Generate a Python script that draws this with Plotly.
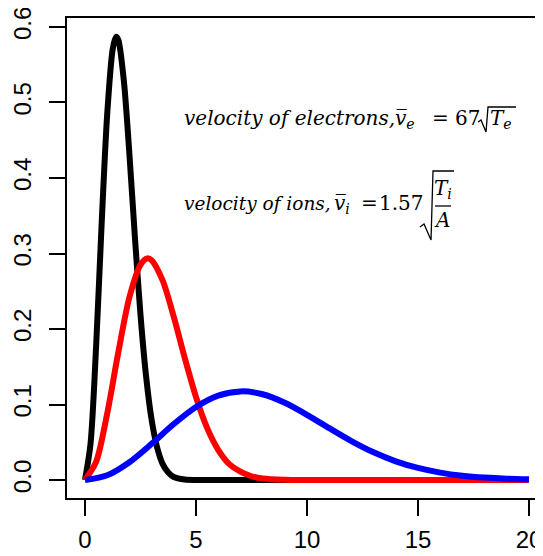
import plotly.graph_objects as go

# ---- data ----
x_black = [0, 0.25, 0.5, 0.75, 1.0, 1.25, 1.4, 1.5, 1.75, 2.0, 2.25, 2.5, 2.75, 3.0, 3.25, 3.5, 3.75, 4.0, 4.5, 5.0, 6, 8, 10, 12, 14, 16, 18, 20]
y_black = [0, 0.048, 0.176, 0.339, 0.484, 0.571, 0.587, 0.583, 0.529, 0.432, 0.321, 0.219, 0.138, 0.080, 0.043, 0.021, 0.010, 0.004, 0.0007, 0.0001, 0, 0, 0, 0, 0, 0, 0, 0]

x_red = [0, 0.5, 1.0, 1.5, 2.0, 2.5, 2.8, 3.0, 3.5, 4.0, 4.5, 5.0, 5.5, 6.0, 6.5, 7.0, 7.5, 8.0, 9.0, 10, 12, 14, 16, 18, 20]
y_red = [0, 0.024, 0.088, 0.169, 0.242, 0.285, 0.2935, 0.291, 0.264, 0.216, 0.161, 0.110, 0.069, 0.040, 0.021, 0.011, 0.005, 0.002, 0.0003, 0, 0, 0, 0, 0, 0]

x_blue = [0, 1, 2, 3, 4, 5, 6, 7, 8, 9, 10, 11, 12, 13, 14, 15, 16, 17, 18, 19, 20]
y_blue = [0, 0.0063, 0.0236, 0.0480, 0.0742, 0.0968, 0.1119, 0.1174, 0.1136, 0.1023, 0.0864, 0.0687, 0.0516, 0.0367, 0.0248, 0.0160, 0.0098, 0.0057, 0.0032, 0.0017, 0.0009]

x_ticks = [0, 5, 10, 15, 20]
y_ticks = [0.0, 0.1, 0.2, 0.3, 0.4, 0.5, 0.6]

series = [(x_black, y_black, "#000000"), (x_red, y_red, "#FF0000"), (x_blue, y_blue, "#0000FF")]

fig = go.Figure()
for xs, ys, c in series:
    fig.add_trace(go.Scatter(x=xs, y=ys, mode="lines",
                             line=dict(color=c, width=6, shape="spline", smoothing=0.8),
                             showlegend=False, hoverinfo="skip"))

# helpers: window pixel position -> data coordinates (layout only)
def X(px):
    return (px - 85) / 22.2

def Y(py):
    return (480 - py) / 755.0

def ann(px, py, text, anchor="center", size=20):
    return dict(x=X(px), y=Y(py), xanchor=anchor, yanchor="middle", showarrow=False,
                text=text, font=dict(family="DejaVu Serif", size=size, color="#000000"))

annotations = [
    # electrons
    ann(182, 118, "<i>velocity of electrons,</i>", "left"),
    ann(405, 119, "<i>v\u0305</i><sub><i>e</i></sub>"),
    ann(440, 118, "="),
    ann(467, 118, "67"),
    ann(501, 119, "<i>T</i><sub><i>e</i></sub>"),
    # ions
    ann(182, 203, "<i>velocity of ions,</i>", "left", 18.5),
    ann(342, 204, "<i>v\u0305</i><sub><i>i</i></sub>"),
    ann(369, 203, "="),
    ann(401, 203, "1.57"),
    ann(443, 189, "<i>T</i><sub><i>i</i></sub>"),
    ann(442, 220, "<i>A</i>"),
]

def path(points):
    return "M " + " L ".join(f"{X(a):.4f},{Y(b):.4f}" for a, b in points)

shapes = [
    # radical for ions
    dict(type="path", xref="x", yref="y",
         path=path([(420, 227), (424, 224), (431, 240), (433, 171), (454, 171)]),
         line=dict(color="#000000", width=1.3)),
    dict(type="line", xref="x", yref="y", x0=X(435), x1=X(451), y0=Y(206), y1=Y(206),
         line=dict(color="#000000", width=1.3)),
    # radical for electrons
    dict(type="path", xref="x", yref="y",
         path=path([(478, 122), (481, 120), (486, 132), (488, 107), (516, 107)]),
         line=dict(color="#000000", width=1.3)),
]

axis_font = dict(family="Liberation Sans, Arial, sans-serif", size=24, color="#000000")

# the page body adds an 8 px offset, so the figure is sized to end at the window edge
fig.update_layout(
    width=535, height=548,
    margin=dict(l=59, r=0, t=10, b=58),
    paper_bgcolor="white", plot_bgcolor="white",
    annotations=annotations, shapes=shapes,
    xaxis=dict(range=[-0.81, 20.63], tickvals=x_ticks, ticktext=[str(v) for v in x_ticks],
               showgrid=False, zeroline=False, showline=True, mirror=True,
               linecolor="#000000", linewidth=2, ticks="outside", ticklen=16,
               tickwidth=2, tickcolor="#000000", tickfont=axis_font,
               ticklabelstandoff=3, automargin=False, ticklabeloverflow="allow"),
    yaxis=dict(range=[-0.0238, 0.6119], tickvals=y_ticks, ticktext=[f"{v:.1f}" for v in y_ticks],
               showgrid=False, zeroline=False, showline=True, mirror=False,
               linecolor="#000000", linewidth=2, ticks="outside", ticklen=16,
               tickwidth=2, tickcolor="#000000", tickfont=axis_font, tickangle=-90,
               ticklabelstandoff=8, automargin=False, ticklabeloverflow="allow"),
)

fig.write_html("out.html")
